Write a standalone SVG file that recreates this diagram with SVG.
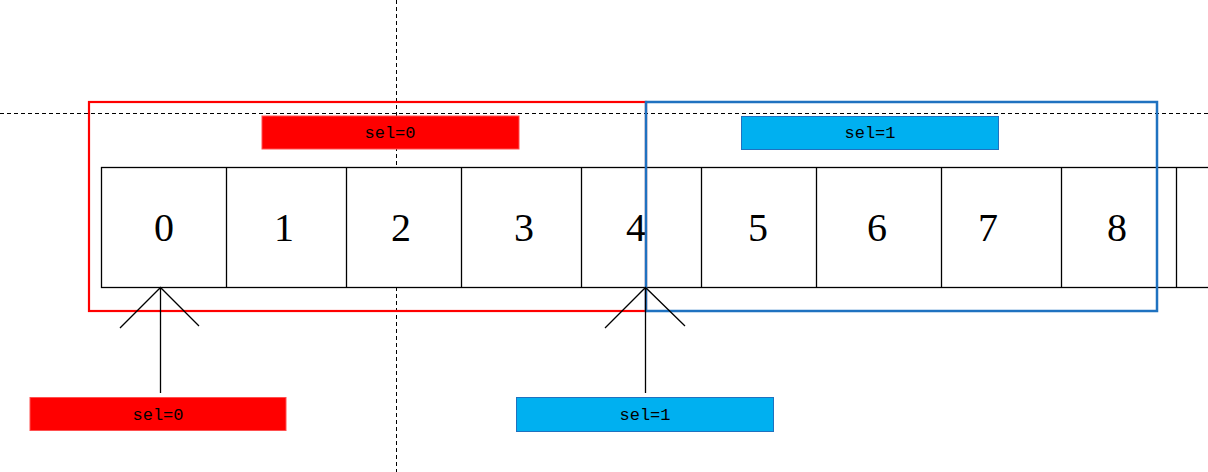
<svg xmlns="http://www.w3.org/2000/svg" width="1208" height="472" viewBox="0 0 1208 472">
<style>
.guide{stroke:#000;stroke-width:1;stroke-dasharray:4 3;fill:none}
.cell{fill:#fff;stroke:#000;stroke-width:1.3}
.num{font-family:"Liberation Serif",serif;font-size:40px;fill:#000;text-anchor:middle}
.lbl{font-family:"Liberation Mono",monospace;font-size:17px;fill:#000;text-anchor:middle}
.red{fill:#ff0000;stroke:#ff5050;stroke-width:1}
.blue{fill:#00b0f0;stroke:#1f72c0;stroke-width:1}
.arrow{stroke:#000;stroke-width:1.3;fill:none}
</style>
<rect width="1208" height="472" fill="#fff"/>
<g id="guides">
<line class="guide" x1="0" y1="113.5" x2="1208" y2="113.5"/>
<line class="guide" x1="396.5" y1="0" x2="396.5" y2="472"/>
</g>
<g id="cells">
<rect class="cell" x="101.5" y="167.5" width="1120" height="120"/>
<line class="cell" x1="226.5" y1="167.5" x2="226.5" y2="287.5"/>
<line class="cell" x1="346.5" y1="167.5" x2="346.5" y2="287.5"/>
<line class="cell" x1="461.5" y1="167.5" x2="461.5" y2="287.5"/>
<line class="cell" x1="581.5" y1="167.5" x2="581.5" y2="287.5"/>
<line class="cell" x1="701.5" y1="167.5" x2="701.5" y2="287.5"/>
<line class="cell" x1="816.5" y1="167.5" x2="816.5" y2="287.5"/>
<line class="cell" x1="941.5" y1="167.5" x2="941.5" y2="287.5"/>
<line class="cell" x1="1061.5" y1="167.5" x2="1061.5" y2="287.5"/>
<line class="cell" x1="1176.5" y1="167.5" x2="1176.5" y2="287.5"/>
<text class="num" x="164" y="241">0</text>
<text class="num" x="284" y="241">1</text>
<text class="num" x="401" y="241">2</text>
<text class="num" x="524" y="241">3</text>
<text class="num" x="636" y="241">4</text>
<text class="num" x="758" y="241">5</text>
<text class="num" x="877" y="241">6</text>
<text class="num" x="988" y="241">7</text>
<text class="num" x="1117" y="241">8</text>
</g>
<g id="window0">
<rect x="89" y="102" width="557" height="209" fill="none" stroke="#ff0000" stroke-width="2.2"/>
</g>
<g id="window1">
<rect x="646" y="102" width="511" height="209" fill="none" stroke="#1f72c0" stroke-width="2.5"/>
</g>
<g id="label-top-0">
<rect class="red" x="262" y="116" width="257" height="33"/>
<text class="lbl" x="390" y="138">sel=0</text>
</g>
<g id="label-top-1">
<rect class="blue" x="741.5" y="116.5" width="257" height="33"/>
<text class="lbl" x="870" y="138">sel=1</text>
</g>
<g id="connectors">
<path class="arrow" d="M160.5 393 V287.5 M120 328 L160.5 287.5 L199 326"/>
<path class="arrow" d="M645.5 393 V287.5 M605 328 L645.5 287.5 L685 326"/>
</g>
<g id="label-bottom-0">
<rect class="red" x="30" y="397.5" width="256" height="33"/>
<text class="lbl" x="158" y="420">sel=0</text>
</g>
<g id="label-bottom-1">
<rect class="blue" x="516.5" y="397.5" width="257" height="34"/>
<text class="lbl" x="645" y="420">sel=1</text>
</g>
</svg>
